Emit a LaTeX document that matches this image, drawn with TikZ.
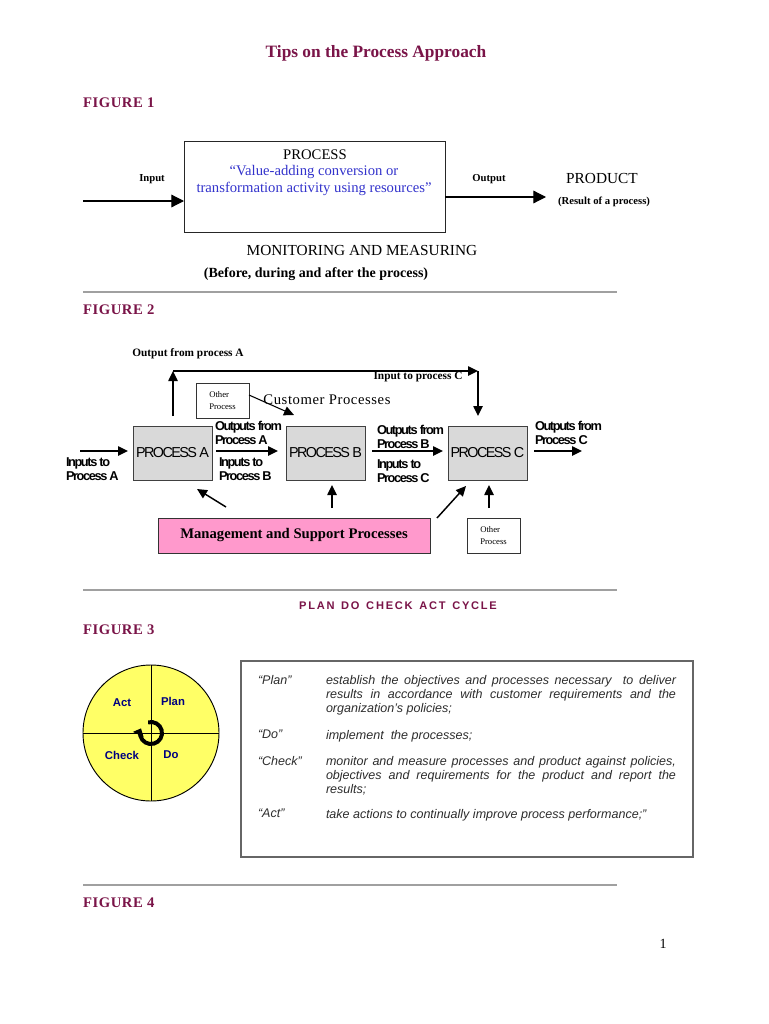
\documentclass[tikz,border=0pt]{standalone}
\usepackage{fontspec}
\setmainfont{Liberation Serif}
\setsansfont{Liberation Sans}
\newfontfamily\tsans[LetterSpace=-11]{Liberation Sans}
\newfontfamily\wsans[LetterSpace=16]{Liberation Sans}
\newfontfamily\wserif[LetterSpace=4]{Liberation Serif}
\usetikzlibrary{arrows.meta}
\definecolor{maroon}{RGB}{122,20,72}
\definecolor{procblue}{RGB}{51,51,204}
\definecolor{boxgray}{RGB}{217,217,217}
\definecolor{pinkbox}{RGB}{255,153,204}
\definecolor{pdcayellow}{RGB}{255,255,102}
\definecolor{pdcablue}{RGB}{0,0,128}
\definecolor{rulegray}{RGB}{160,160,160}
\definecolor{desctext}{RGB}{45,45,45}
\begin{document}
\begin{tikzpicture}[x=0.75pt,y=-0.75pt,
  every node/.style={inner sep=0pt, outer sep=0pt},
  heading/.style={font=\wserif\bfseries\fontsize{11}{13}\selectfont, text=maroon, anchor=west},
  hrule/.style={draw=rulegray, line width=1.8pt},
  smallbold/.style={font=\bfseries\fontsize{8}{9.6}\selectfont},
  bigarr/.style={line width=0.9pt, -{Triangle[length=9.5pt,width=9.5pt]}},
  arr/.style={line width=1.1pt, -{Triangle[length=7.5pt,width=7pt]}},
  procbox/.style={draw=black!75, fill=boxgray, minimum width=59.25pt, minimum height=40.5pt, font=\tsans\fontsize{10.8}{13}\selectfont},
  lab/.style={font=\tsans\bfseries\fontsize{9.6}{10.5}\selectfont, align=left, anchor=west},
  otherbox/.style={draw=black!80, fill=white, minimum width=39.75pt, minimum height=26.25pt, align=left, font=\fontsize{6.5}{8.5}\selectfont},
  pdcalab/.style={font=\sffamily\bfseries\fontsize{8.5}{10}\selectfont, text=pdcablue},
  desclab/.style={font=\sffamily\itshape\fontsize{9.4}{10.5}\selectfont, text=desctext, anchor=north west},
  desc/.style={font=\sffamily\itshape\fontsize{9.4}{10.5}\selectfont, text=desctext, anchor=north west, text width=262.5pt, align=justify}
]
\fill[white] (0,0) rectangle (768,1024);
\useasboundingbox (0,0) rectangle (768,1024);

% Title
\node[font=\bfseries\fontsize{13}{15}\selectfont, text=maroon] (title) at (376,53) {Tips on the Process Approach};

% ---------------- FIGURE 1 ----------------
\node[heading] (fig1) at (83,103) {FIGURE 1};
\node[draw=black!85, line width=0.6pt, minimum width=195.75pt, minimum height=68.25pt] (proc) at (314.5,186.5) {};
\node[font=\fontsize{11}{13}\selectfont] (proct) at (315,155) {PROCESS};
\node[font=\fontsize{11}{13}\selectfont, text=procblue] (procl1) at (314,172) {“Value-adding conversion or};
\node[font=\fontsize{11}{13}\selectfont, text=procblue] (procl2) at (314,189) {transformation activity using resources”};
\coordinate (inS) at (83,201);
\coordinate (inE) at (184,201);
\draw[bigarr] (inS) -- (inE);
\node[smallbold] (inlab) at (152,179) {Input};
\coordinate (outS) at (445,197);
\coordinate (outE) at (546,197);
\draw[bigarr] (outS) -- (outE);
\node[smallbold] (outlab) at (489,179) {Output};
\node[font=\fontsize{11.5}{13}\selectfont] (product) at (602,178) {PRODUCT};
\node[smallbold] (result) at (604,202) {(Result of a process)};
\node[font=\fontsize{11.5}{13}\selectfont] (monit) at (362,250) {MONITORING AND MEASURING};
\node[font=\bfseries\fontsize{10.5}{12}\selectfont] (before) at (316,274) {(Before, during and after the process)};
\draw[hrule] (83,292) -- (617,292);

% ---------------- FIGURE 2 ----------------
\node[heading] (fig2) at (83,310) {FIGURE 2};
\node[smallbold, font=\bfseries\fontsize{8.5}{10}\selectfont] (outA) at (188,354) {Output from process A};
\node[procbox] (pa) at (172.5,453) {PROCESS A};
\node[procbox] (pb) at (325.5,453) {PROCESS B};
\node[procbox] (pc) at (487.5,453) {PROCESS C};
\coordinate (aup0) at (173,416);
\coordinate (aup1) at (173,371);
\coordinate (ctop) at (478,371);
\coordinate (cin) at (478,416);
\draw[arr] (aup0) -- (aup1);
\draw[arr] (aup1) -- (ctop);
\draw[arr] (ctop) -- (cin);
\node[smallbold, font=\bfseries\fontsize{8.5}{10}\selectfont] (inC) at (418,377) {Input to process C};
\node[otherbox] (op1) at (222.5,400.5) {Other\\Process};
\node[font=\wserif\fontsize{11}{13}\selectfont] (cust) at (327,400) {Customer Processes};
\coordinate (op1e) at (249,395);
\coordinate (op1t) at (294,415);
\draw[line width=0.8pt, -{Triangle[length=7.5pt,width=7pt]}] (op1e) -- (op1t);
% horizontal flow
\coordinate (inAs) at (80,451);
\coordinate (inAe) at (128,451);
\draw[arr] (inAs) -- (inAe);
\coordinate (abS) at (216,451);
\coordinate (abE) at (278,451);
\draw[arr] (abS) -- (abE);
\coordinate (bcS) at (372,451);
\coordinate (bcE) at (443,451);
\draw[arr] (bcS) -- (bcE);
\coordinate (coS) at (534,451);
\coordinate (coE) at (582,451);
\draw[arr] (coS) -- (coE);
\node[lab] (l1) at (66,469) {Inputs to\\Process A};
\node[lab] (l2) at (215,433) {Outputs from\\Process A};
\node[lab] (l3) at (219,469) {Inputs to\\Process B};
\node[lab] (l4) at (377,437) {Outputs from\\Process B};
\node[lab] (l5) at (377,471) {Inputs to\\Process C};
\node[lab] (l6) at (535,433) {Outputs from\\Process C};
% management
\node[draw=black!80, fill=pinkbox, minimum width=204pt, minimum height=26.25pt, font=\bfseries\fontsize{11}{13}\selectfont] (mgmt) at (294,535.5) {Management and Support Processes};
\node[otherbox] (op2) at (493.5,535.5) {Other\\Process};
\coordinate (mA0) at (226,507);
\coordinate (mA1) at (197,489);
\draw[arr] (mA0) -- (mA1);
\coordinate (mB0) at (332,508);
\coordinate (mB1) at (332,485);
\draw[arr] (mB0) -- (mB1);
\coordinate (mC0) at (437,518);
\coordinate (mC1) at (466,486);
\draw[arr] (mC0) -- (mC1);
\coordinate (oC0) at (489,508);
\coordinate (oC1) at (489,485);
\draw[arr] (oC0) -- (oC1);
\draw[hrule] (83,590) -- (617,590);

% ---------------- FIGURE 3 ----------------
\node[font=\wsans\bfseries\fontsize{8.3}{10}\selectfont, text=maroon] (pdca) at (398,606) {PLAN\hspace{5pt}DO\hspace{5pt}CHECK\hspace{5pt}ACT\hspace{5pt}CYCLE};
\node[heading] (fig3) at (83,630) {FIGURE 3};
\coordinate (cc) at (151,733);
\draw[fill=pdcayellow, draw=black, line width=0.7pt] (cc) circle[radius=51pt];
\draw[line width=0.7pt] (83,733) -- (219,733);
\draw[line width=0.7pt] (151,665) -- (151,801);
\draw[line width=3pt, -{Triangle[length=5pt,width=8.5pt]}] ([shift={(105:8.25pt)}]cc) arc[start angle=105, end angle=-205, radius=8.25pt];
\node[pdcalab] (act) at (122,703) {Act};
\node[pdcalab] (plan) at (173,701) {Plan};
\node[pdcalab] (check) at (122,755) {Check};
\node[pdcalab] (do) at (171,755) {Do};

\node[draw=black!60, line width=0.9pt, minimum width=339pt, minimum height=147pt] (descbox) at (467,759) {};
\node[desclab] (dl1) at (258,675) {“Plan”};
\node[desc] (d1) at (326,675) {establish the objectives and processes necessary\ \ to deliver\linebreak results in accordance with customer requirements and the\linebreak organization’s policies;};
\node[desclab] (dl2) at (258,730) {“Do”};
\node[desc] (d2) at (326,730) {implement\ \ the processes;};
\node[desclab] (dl3) at (258,756) {“Check”};
\node[desc] (d3) at (326,756) {monitor and measure processes and product against policies,\linebreak objectives and requirements for the product and report the\linebreak results;};
\node[desclab] (dl4) at (258,809) {“Act”};
\node[desc] (d4) at (326,809) {take actions to continually improve process performance;”};
\draw[hrule] (83,885) -- (617,885);

% ---------------- FIGURE 4 ----------------
\node[heading] (fig4) at (83,903) {FIGURE 4};
\node[font=\fontsize{10.5}{12}\selectfont] (pagenum) at (663,944) {1};
\end{tikzpicture}
\end{document}
